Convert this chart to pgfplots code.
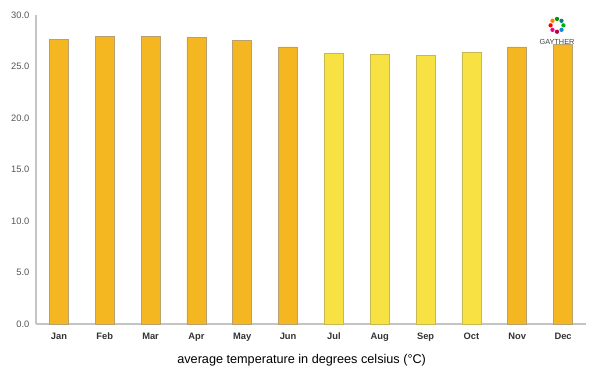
\documentclass[border=0pt]{standalone}
\usepackage{pgfplots}
\pgfplotsset{compat=1.18}
\usepackage{fontspec}
\setmainfont{Liberation Sans}
\definecolor{barorange}{HTML}{F4B722}
\definecolor{baryellow}{HTML}{F8E142}
\definecolor{edgeorange}{HTML}{B8A070}
\definecolor{edgeyellow}{HTML}{C8B850}
\definecolor{axgrey}{HTML}{C4C4C4}
\definecolor{ticktxt}{HTML}{555555}
\begin{document}
\begin{tikzpicture}
\useasboundingbox (0pt,0pt) rectangle (450pt,-281.25pt);
\begin{axis}[
  at={(27pt,-243pt)}, anchor=south west,
  scale only axis, width=412.5pt, height=231.75pt,
  xmin=-0.5, xmax=11.5, ymin=0, ymax=30,
  axis x line=bottom, axis y line=left,
  axis line style={axgrey, line width=0.8pt, -},
  xtick={0,...,11},
  xticklabels={Jan,Feb,Mar,Apr,May,Jun,Jul,Aug,Sep,Oct,Nov,Dec},
  ytick={0,5,...,30},
  /pgf/number format/fixed, /pgf/number format/fixed zerofill, /pgf/number format/precision=1,
  /pgf/number format/assume math mode=true,
  yticklabel style={font=\fontsize{7}{8}\selectfont, text=ticktxt, xshift=-1.5pt},
  xticklabel style={font=\fontsize{7}{8}\selectfont\bfseries, text=black!80, yshift=-3pt},
  major tick length=0pt,
  ybar, bar width=14.25pt, bar shift=0pt,
  xlabel={average temperature in degrees celsius (°C)},
  xlabel style={font=\fontsize{9.5}{11}\selectfont, yshift=-3pt, xshift=-7pt},
  clip=false,
]
\addplot[fill=barorange, draw=edgeorange, line width=0.6pt] coordinates {
 (0,27.6) (1,27.9) (2,27.9) (3,27.8) (4,27.5) (5,26.9) (10,26.9) (11,27.1)};
\addplot[fill=baryellow, draw=edgeyellow, line width=0.6pt] coordinates {
 (6,26.3) (7,26.2) (8,26.1) (9,26.4)};
\end{axis}
% logo
\foreach \a/\c in {0/green!70!black,45/teal,90/green!60!black,135/orange,180/red,225/magenta,270/purple,315/cyan!70!blue}{
  \fill[\c] (417.75pt,-19pt) ++(\a:4.8pt) circle (1.6pt);
}
\node[font=\fontsize{5.5}{6}\selectfont, text=black!75] at (417.75pt,-31.5pt) {GAYTHER};
\end{tikzpicture}
\end{document}
